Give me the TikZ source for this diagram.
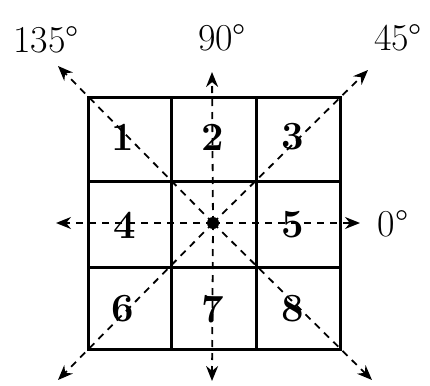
\documentclass[tikz,border=0pt]{standalone}
\usetikzlibrary{arrows.meta}
\begin{document}
\begin{tikzpicture}[x=1pt,y=-1pt,
  gridline/.style={line width=3pt},
  dirline/.style={line width=1.8pt,dash pattern=on 7pt off 6pt,-{Stealth[length=15pt,width=12pt]}},
  num/.style={font=\fontsize{40}{44}\selectfont\bfseries,inner sep=0pt},
  lab/.style={font=\fontsize{38}{40}\selectfont,inner sep=0pt}]
\useasboundingbox (0,0) rectangle (430,385);
% grid
\draw[gridline] (88,97) rectangle (340,349);
\draw[gridline] (171,97) -- (171,349) (256,97) -- (256,349);
\draw[gridline] (88,181) -- (340,181) (88,267) -- (340,267);
% centre
\coordinate (o) at (213,223);
\coordinate (tN) at (212,72);
\coordinate (tS) at (212,381);
\coordinate (tW) at (56,223);
\coordinate (tE) at (360,223);
\coordinate (tNW) at (58,66);
\coordinate (tNE) at (368,70);
\coordinate (tSW) at (58,380);
\coordinate (tSE) at (372,380);
\foreach \t in {tN,tS,tW,tE,tNW,tNE,tSW,tSE}
  \draw[dirline] (o) -- (\t);
\fill (o) circle (6pt);
% numbers
\node[num] (c1) at (123,137) {1};
\node[num] (c2) at (213,137) {2};
\node[num] (c3) at (293,137) {3};
\node[num] (c4) at (125,225) {4};
\node[num] (c5) at (293,225) {5};
\node[num] (c6) at (123,309) {6};
\node[num] (c7) at (213,309) {7};
\node[num] (c8) at (293,309) {8};
% labels
\node[lab] (l135) at (46,40) {135\textdegree};
\node[lab] (l90) at (222,38) {90\textdegree};
\node[lab] (l45) at (398,38) {45\textdegree};
\node[lab] (l0) at (393,224) {0\textdegree};
\end{tikzpicture}
\end{document}
